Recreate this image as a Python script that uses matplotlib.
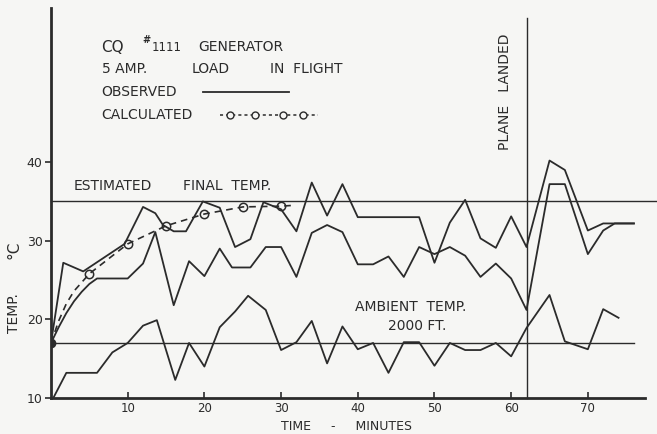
import matplotlib
matplotlib.use("Agg")
import matplotlib.pyplot as plt

# observed generator temperatures, upper trace (deg C vs minutes)
top_t = [0, 1.6, 4.2, 9.6, 12, 13.6, 14.6, 16, 17.6, 19.8, 22, 24, 26, 27.7, 30, 32,
         34, 36, 38, 40, 48, 50, 52, 54, 56, 58, 60, 62, 65, 67, 70, 72, 76]
top_v = [17, 27.2, 26.1, 29.6, 34.3, 33.5, 32.0, 31.2, 31.2, 35.0, 34.2, 29.2, 30.2, 34.9, 34.0, 31.2,
         37.4, 33.2, 37.2, 33.0, 33.0, 27.2, 32.3, 35.2, 30.3, 29.1, 33.1, 29.2, 40.2, 39.0, 31.3, 32.2, 32.2]

# observed, middle trace
mid_t = [0, 1, 2, 3, 4, 5, 6, 10, 12, 13.6, 16, 18, 20, 22, 23.6, 26, 28, 30, 32,
         34, 36, 38, 40, 42, 44, 46, 48, 50, 52, 54, 56, 58, 60, 62, 65, 67, 70, 72, 73.5, 76]
mid_v = [17, 19.0, 20.8, 22.3, 23.5, 24.5, 25.2, 25.2, 27.1, 31.1, 21.8, 27.4, 25.5, 29.0, 26.6, 26.6, 29.2, 29.2, 25.4,
         31.0, 32.0, 31.1, 27.0, 27.0, 28.0, 25.4, 29.2, 28.3, 29.2, 28.1, 25.4, 27.1, 25.2, 21.2, 37.2, 37.2, 28.3, 31.3, 32.2, 32.2]

# observed, lower trace
low_t = [0.3, 2, 6, 8, 10, 12, 13.8, 16.2, 18, 20, 22, 24, 25.7, 28, 30, 32, 34, 36, 38,
         40, 42, 44, 46, 48, 50, 52, 54, 56, 58, 60, 62, 65, 67, 70, 72, 74]
low_v = [10, 13.2, 13.2, 15.8, 17.0, 19.2, 19.9, 12.3, 17.0, 14.0, 19.0, 21.0, 23.0, 21.2, 16.1, 17.1, 19.8, 14.4, 19.1,
         16.2, 17.0, 13.2, 17.1, 17.1, 14.1, 17.0, 16.1, 16.1, 17.0, 15.3, 18.9, 23.1, 17.2, 16.2, 21.3, 20.2]

# calculated heating curve
calc_t = [0, 1, 2, 3, 5, 10, 15, 20, 25, 30, 31.6]
calc_v = [17, 19.8, 22.0, 23.6, 25.8, 29.6, 31.9, 33.4, 34.3, 34.4, 34.5]
calc_marks = [4, 5, 6, 7, 8, 9]

final_temp = 35
ambient_temp = 17
ambient_end = 76
landed_at = 62

x_ticks = [10, 20, 30, 40, 50, 60, 70]
y_ticks = [10, 20, 30, 40]

ink = "#2b2b2b"
paper = "#f6f6f4"

fig = plt.figure(figsize=(6.57, 4.34), dpi=100, facecolor=paper)
ax = fig.add_axes([51 / 657, 36 / 434, 594 / 657, 390 / 434], facecolor=paper)
ax.set_xlim(0, 77.45)
ax.set_ylim(10, 59.6)

for s in ["top", "right"]:
    ax.spines[s].set_visible(False)
ax.spines["left"].set_linewidth(2.0)
ax.spines["bottom"].set_linewidth(2.0)
ax.spines["left"].set_color(ink)
ax.spines["bottom"].set_color(ink)

ax.set_xticks(x_ticks)
ax.set_yticks(y_ticks)
ax.tick_params(axis="x", direction="in", length=4, width=1.2, color=ink,
               labelsize=8.5, labelcolor=ink, pad=3)
ax.tick_params(axis="y", direction="out", length=4, width=1.2, color=ink,
               labelsize=9, labelcolor=ink, pad=2)

lw = 1.3
ax.plot(top_t, top_v, color=ink, lw=lw)
ax.plot(mid_t, mid_v, color=ink, lw=lw)
ax.plot(low_t, low_v, color=ink, lw=lw)

ax.plot(calc_t, calc_v, color=ink, lw=1.2, ls=(0, (4, 3)))
ax.plot([calc_t[i] for i in calc_marks], [calc_v[i] for i in calc_marks], ls="none",
        marker="o", ms=6, mfc="none", mec=ink, mew=1.1)
ax.plot([calc_t[0]], [calc_v[0]], ls="none", marker="o", ms=6, mfc=ink, mec=ink)

# reference lines
ax.axhline(final_temp, xmin=0, xmax=1.03, color=ink, lw=1.0, clip_on=False)
ax.plot([0, ambient_end], [ambient_temp, ambient_temp], color=ink, lw=1.0)
ax.plot([landed_at, landed_at], [10, 58.3], color=ink, lw=1.0, clip_on=False)

fs = 10
kw = dict(color=ink, fontsize=fs, va="center", ha="left", clip_on=False)

ax.text(6.6, 54.6, "CQ", fontsize=11, color=ink, va="center", ha="left")
ax.text(11.9, 55.5, "#", fontsize=7, color=ink, va="center", ha="left", fontweight="bold")
ax.text(13.1, 54.6, "1111", fontsize=8.5, color=ink, va="center", ha="left")
ax.text(19.2, 54.6, "GENERATOR", **kw)
ax.text(6.6, 51.9, "5 AMP.", **kw)
ax.text(18.4, 51.9, "LOAD", **kw)
ax.text(28.6, 51.9, "IN  FLIGHT", **kw)
ax.text(6.6, 48.9, "OBSERVED", **kw)
ax.plot([19.8, 31.0], [48.9, 48.9], color=ink, lw=1.3)
ax.text(6.6, 46.0, "CALCULATED", **kw)
ax.plot([22.0, 34.8], [46.0, 46.0], color=ink, lw=1.1, ls=(0, (2, 2)))
ax.plot([23.3, 26.6, 30.2, 32.9], [46.0] * 4, ls="none", marker="o", ms=5,
        mfc=paper, mec=ink, mew=1.0)

ax.text(2.9, 36.9, "ESTIMATED", **kw)
ax.text(17.2, 36.9, "FINAL  TEMP.", **kw)
ax.text(39.6, 21.6, "AMBIENT  TEMP.", **kw)
ax.text(44.0, 19.1, "2000 FT.", **kw)
ax.text(59.2, 49.0, "PLANE   LANDED", color=ink, fontsize=fs, rotation=90,
        va="center", ha="center")

ax.text(38.5, 6.35, "TIME     -     MINUTES", **{**kw, "ha": "center", "fontsize": 9})
ax.text(-4.8, 28.8, "\u00b0C", color=ink, fontsize=11, rotation=90,
        va="center", ha="center", clip_on=False)
ax.text(-4.8, 20.8, "TEMP.", color=ink, fontsize=fs, rotation=90,
        va="center", ha="center", clip_on=False)

fig.savefig("out.png", dpi=100, facecolor=paper)
